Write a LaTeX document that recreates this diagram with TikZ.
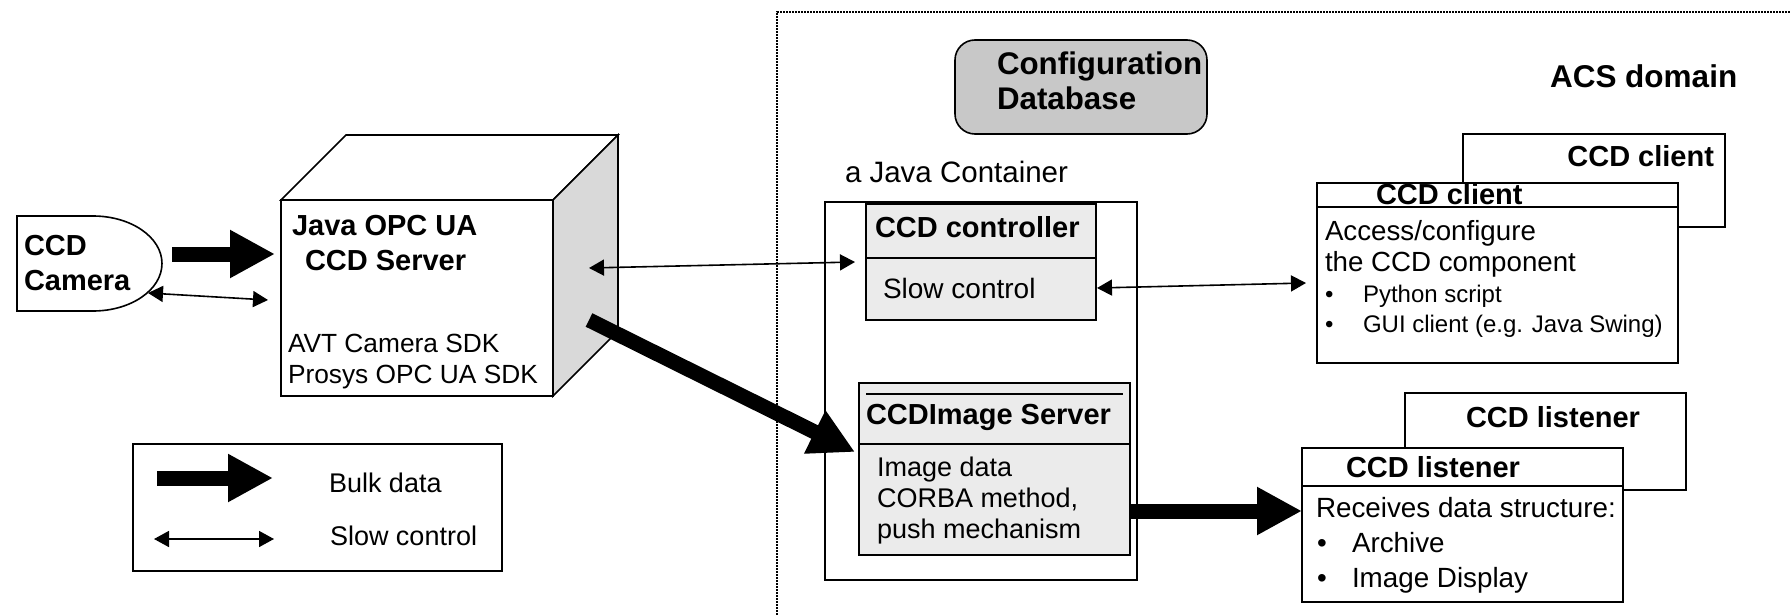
\documentclass[tikz,border=0pt]{standalone}
\usepackage{fontspec}
\setmainfont{Liberation Sans}
\usetikzlibrary{arrows.meta}
\definecolor{sidegray}{RGB}{217,217,217}
\definecolor{boxgray}{RGB}{235,235,235}
\definecolor{dbgray}{RGB}{200,200,200}
\newcommand\fsz[1]{\fontsize{#1}{#1}\selectfont}
\tikzset{
  box/.style={draw, line width=1.6pt, inner sep=0pt, outer sep=0pt, anchor=north west},
  txt/.style={inner sep=0pt, outer sep=0pt, anchor=base west, font=\fsz{27}},
  btxt/.style={inner sep=0pt, outer sep=0pt, anchor=base west, font=\bfseries\fsz{29}},
  bultxt/.style={inner sep=0pt, outer sep=0pt, anchor=base west, font=\fsz{24}},
  bulk/.style={line width=15pt, -{Triangle[length=45pt,width=45pt]}},
  slow/.style={line width=1.6pt, {Triangle[length=15pt,width=16pt]}-{Triangle[length=15pt,width=16pt]}},
  domainline/.style={line width=1.6pt, dash pattern=on 1.6pt off 1.4pt},
}
\begin{document}
\begin{tikzpicture}[x=1pt,y=-1pt]
\useasboundingbox (0,0) rectangle (1790,615);
\fill[white] (0,0) rectangle (1790,615);

% ACS domain border
\coordinate (dA) at (777,615);
\coordinate (dB) at (777,12);
\coordinate (dC) at (1790,12);
\draw[domainline] (dA) -- (dB) -- (dC);

% Camera
\draw[line width=1.6pt, fill=white] (17,216) -- (93,216) arc[start angle=90, end angle=-90, x radius=69pt, y radius=47.5pt] -- (17,311) -- cycle;
\node[btxt] (cam1) at (24,255) {CCD};
\node[btxt] (cam2) at (24,290) {Camera};

% Cube server
\draw[line width=1.6pt, fill=white] (281,200) -- (346,135) -- (618,135) -- (553,200) -- cycle;
\draw[line width=1.6pt, fill=sidegray] (553,200) -- (618,135) -- (618,331) -- (553,396) -- cycle;
\node[box, fill=white, minimum width=272pt, minimum height=196pt] (srv) at (281,200) {};
\node[btxt] (srv1) at (292,235) {Java OPC UA};
\node[btxt] (srv2) at (305,270) {CCD Server};
\node[txt, font=\fsz{26.3}] (srv3) at (288,352) {AVT Camera SDK};
\node[txt, font=\fsz{26.3}] (srv4) at (288,383) {Prosys OPC UA SDK};

% Configuration database
\node[box, rounded corners=20pt, fill=dbgray, minimum width=252pt, minimum height=94pt] (db) at (955,40) {};
\node[btxt, font=\bfseries\fsz{31.3}] (db1) at (997,75) {Configuration};
\node[btxt, font=\bfseries\fsz{31.3}] (db2) at (997,110) {Database};

\node[btxt, font=\bfseries\fsz{31.5}] (acs) at (1550,88) {ACS domain};

% Java container
\node[txt, font=\fsz{29.5}] (contl) at (845,182) {a Java Container};
\node[box, minimum width=312pt, minimum height=378pt] (cont) at (825,202) {};

% CCD controller
\node[box, fill=boxgray, minimum width=230pt, minimum height=116pt] (ctrl) at (866,204) {};
\draw[line width=1.6pt] (866,258) -- (1096,258);
\node[btxt] (ctrl1) at (875,237) {CCD controller};
\node[txt, font=\fsz{28}] (ctrl2) at (883,298) {Slow control};

% CCDImage server
\node[box, fill=boxgray, minimum width=271pt, minimum height=172pt] (img) at (859,383) {};
\draw[line width=1.6pt] (866,394) -- (1123,394);
\draw[line width=1.6pt] (859,444) -- (1130,444);
\node[btxt] (img1) at (866,424) {CCDImage Server};
\node[txt] (img2) at (877,476) {Image data};
\node[txt] (img3) at (877,507) {CORBA method,};
\node[txt] (img4) at (877,538) {push mechanism};

% CCD client (back and front)
\node[box, fill=white, minimum width=262pt, minimum height=93pt] (clb) at (1463,134) {};
\node[btxt, anchor=base east] (clb1) at (1714,166) {CCD client};
\node[box, fill=white, minimum width=361pt, minimum height=180pt] (clf) at (1317,183) {};
\draw[line width=1.6pt] (1317,207) -- (1678,207);
\node[btxt] (clf1) at (1376,204) {CCD client};
\node[txt, font=\fsz{27.7}] (clf2) at (1325,240) {Access/configure};
\node[txt, font=\fsz{27.7}] (clf3) at (1325,271) {the CCD component};
\node[bultxt] (clfb1) at (1325,302) {•};
\node[bultxt] (clf4) at (1363,302) {Python script};
\node[bultxt] (clfb2) at (1325,332) {•};
\node[bultxt] (clf5) at (1363,332) {GUI client (e.g. Java Swing)};

% CCD listener (back and front)
\node[box, fill=white, minimum width=281pt, minimum height=97pt] (lib) at (1405,393) {};
\node[btxt] (lib1) at (1466,427) {CCD listener};
\node[box, fill=white, minimum width=321pt, minimum height=154pt] (lif) at (1302,448) {};
\draw[line width=1.6pt] (1302,486) -- (1623,486);
\node[btxt] (lif1) at (1346,477) {CCD listener};
\node[txt, font=\fsz{27.8}] (lif2) at (1316,517) {Receives data structure:};
\node[txt, font=\fsz{27.8}] (lifb1) at (1317,552) {•};
\node[txt, font=\fsz{27.8}] (lif3) at (1352,552) {Archive};
\node[txt, font=\fsz{27.8}] (lifb2) at (1317,587) {•};
\node[txt, font=\fsz{27.8}] (lif4) at (1352,587) {Image Display};

% Legend
\node[box, fill=white, minimum width=369pt, minimum height=127pt] (leg) at (133,444) {};
\node[txt] (leg1) at (329,492) {Bulk data};
\node[txt] (leg2) at (330,545) {Slow control};

% Connector end points
\coordinate (camOut) at (172,254);
\coordinate (srvIn) at (275,254);
\coordinate (camS) at (148,293);
\coordinate (srvS) at (268,300);
\coordinate (srvC) at (589,268);
\coordinate (ctrlW) at (855,262);
\coordinate (ctrlE) at (1097,288);
\coordinate (clfW) at (1306,283);
\coordinate (srvB) at (589,320);
\coordinate (imgW) at (855,452);
\coordinate (imgE) at (1131,511);
\coordinate (lifW) at (1302,511);
\coordinate (legB1) at (157,478);
\coordinate (legB2) at (273,478);
\coordinate (legS1) at (154,539);
\coordinate (legS2) at (274,539);

% Connectors
\draw[bulk] (camOut) -- (srvIn);
\draw[slow] (camS) -- (srvS);
\draw[slow] (srvC) -- (ctrlW);
\draw[slow] (ctrlE) -- (clfW);
\draw[bulk] (srvB) -- (imgW);
\draw[bulk] (imgE) -- (lifW);
\draw[bulk] (legB1) -- (legB2);
\draw[slow] (legS1) -- (legS2);
\end{tikzpicture}
\end{document}
